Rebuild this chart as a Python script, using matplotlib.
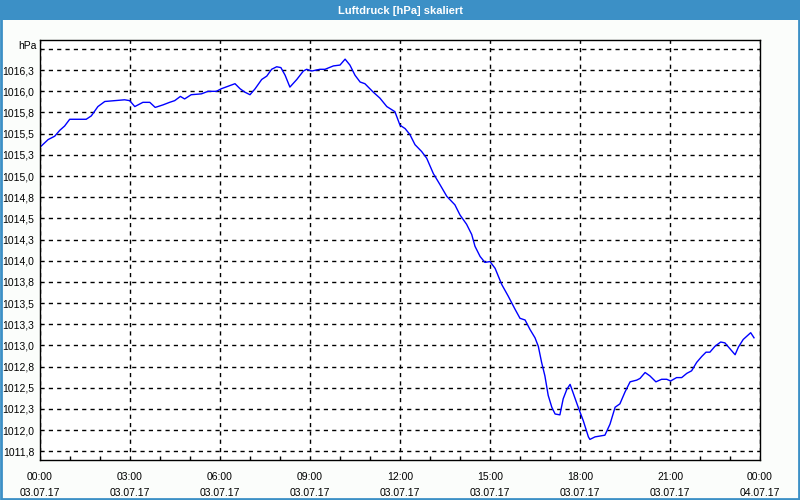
import numpy as np
import matplotlib
matplotlib.use('Agg')
import matplotlib.pyplot as plt
from matplotlib.patches import Rectangle

# Time of each reading, in hours since 03.07.17 00:00.
hours = [0.00, 0.27, 0.49, 0.66, 0.82, 0.99, 1.54, 1.71, 1.93, 2.16,
         2.82, 2.99, 3.16, 3.43, 3.66, 3.84, 4.10, 4.32, 4.49, 4.68,
         4.82, 5.04, 5.38, 5.60, 5.88, 6.04, 6.27, 6.50, 6.67, 6.83,
         7.00, 7.17, 7.39, 7.56, 7.72, 7.89, 8.03, 8.17, 8.33, 8.56,
         8.78, 8.89, 9.06, 9.33, 9.50, 9.78, 10.00, 10.17, 10.33, 10.50,
         10.67, 10.83, 11.11, 11.33, 11.56, 11.83, 12.00, 12.17, 12.33, 12.50,
         12.72, 12.89, 13.11, 13.33, 13.56, 13.83, 14.00, 14.22, 14.39, 14.50,
         14.67, 14.83, 15.00, 15.17, 15.39, 15.61, 15.83, 16.00, 16.17, 16.33,
         16.50, 16.61, 16.72, 16.83, 16.94, 17.06, 17.17, 17.33, 17.44, 17.56,
         17.67, 17.78, 17.94, 18.11, 18.28, 18.33, 18.50, 18.67, 18.83, 19.00,
         19.17, 19.33, 19.50, 19.67, 19.89, 20.00, 20.17, 20.33, 20.53, 20.72,
         20.89, 21.02, 21.22, 21.39, 21.56, 21.72, 21.89, 22.06, 22.20, 22.33,
         22.50, 22.69, 22.83, 23.00, 23.17, 23.28, 23.44, 23.69, 23.80]

# Air pressure in hPa.
pressure = [1015.34, 1015.43, 1015.47, 1015.54, 1015.59, 1015.67, 1015.67, 1015.71, 1015.82, 1015.88,
            1015.90, 1015.89, 1015.82, 1015.87, 1015.87, 1015.81, 1015.84, 1015.87, 1015.89, 1015.94,
            1015.91, 1015.96, 1015.97, 1016.00, 1016.00, 1016.03, 1016.06, 1016.09, 1016.03, 1015.99,
            1015.96, 1016.03, 1016.14, 1016.18, 1016.26, 1016.29, 1016.28, 1016.19, 1016.05, 1016.14,
            1016.24, 1016.26, 1016.24, 1016.26, 1016.26, 1016.30, 1016.31, 1016.38, 1016.31, 1016.19,
            1016.11, 1016.09, 1015.99, 1015.92, 1015.82, 1015.76, 1015.60, 1015.56, 1015.49, 1015.37,
            1015.29, 1015.21, 1015.03, 1014.90, 1014.76, 1014.66, 1014.54, 1014.43, 1014.31, 1014.17,
            1014.05, 1013.98, 1013.99, 1013.91, 1013.72, 1013.58, 1013.43, 1013.32, 1013.30, 1013.19,
            1013.09, 1012.99, 1012.80, 1012.64, 1012.41, 1012.27, 1012.19, 1012.18, 1012.37, 1012.48,
            1012.54, 1012.43, 1012.27, 1012.11, 1011.92, 1011.89, 1011.92, 1011.93, 1011.94, 1012.07,
            1012.27, 1012.31, 1012.45, 1012.57, 1012.59, 1012.61, 1012.68, 1012.64, 1012.57, 1012.60,
            1012.60, 1012.58, 1012.62, 1012.62, 1012.67, 1012.70, 1012.80, 1012.87, 1012.92, 1012.92,
            1012.99, 1013.04, 1013.03, 1012.96, 1012.89, 1012.98, 1013.07, 1013.15, 1013.09]

# Axis ticks and labels.
x_ticks = [0, 3, 6, 9, 12, 15, 18, 21, 24]
x_labels = ['00:00\n03.07.17', '03:00\n03.07.17', '06:00\n03.07.17', '09:00\n03.07.17',
            '12:00\n03.07.17', '15:00\n03.07.17', '18:00\n03.07.17', '21:00\n03.07.17',
            '00:00\n04.07.17']
y_ticks = [1011.75, 1012.0, 1012.25, 1012.5, 1012.75, 1013.0, 1013.25, 1013.5, 1013.75,
           1014.0, 1014.25, 1014.5, 1014.75, 1015.0, 1015.25, 1015.5, 1015.75, 1016.0,
           1016.25, 1016.5]
y_labels = ['1011,8', '1012,0', '1012,3', '1012,5', '1012,8', '1013,0', '1013,3', '1013,5',
            '1013,8', '1014,0', '1014,3', '1014,5', '1014,8', '1015,0', '1015,3', '1015,5',
            '1015,8', '1016,0', '1016,3', '']

title = 'Luftdruck [hPa] skaliert'
frame_blue = '#3c90c6'

plt.rcParams['font.family'] = ['Liberation Sans', 'DejaVu Sans']

fig = plt.figure(figsize=(8, 5), dpi=100, facecolor='#fbfdfb')

# Title bar and blue frame around the whole picture.
fig.patches.append(Rectangle((0, 0.96), 1, 0.04, transform=fig.transFigure,
                             facecolor=frame_blue, edgecolor='none', zorder=0))
fig.patches.append(Rectangle((0.001, 0.002), 0.998, 0.997, transform=fig.transFigure,
                             facecolor='none', edgecolor=frame_blue, linewidth=2, zorder=1))
fig.text(0.5, 0.979, title, ha='center', va='center', color='white',
         fontsize=8, fontweight='bold')

ax = fig.add_axes([0.05, 0.08, 0.90, 0.84])
ax.set_facecolor('white')
ax.plot(hours, pressure, color='#0000ff', linewidth=1)

ax.set_xlim(0, 24)
ax.set_ylim(1011.647, 1016.606)

ax.set_xticks(x_ticks)
ax.set_xticklabels(x_labels, fontsize=7.5, linespacing=1.7)
ax.set_xticks(np.arange(0, 25, 1), minor=True)
ax.set_yticks(y_ticks)
ax.set_yticklabels(y_labels, fontsize=7.5)

ax.tick_params(axis='x', which='major', length=0, pad=9)
ax.tick_params(axis='x', which='minor', direction='in', length=3, width=1)
ax.tick_params(axis='y', length=0, pad=4)

# Dashed grid lines.
ax.grid(True, which='major', color='black', linestyle=(0, (3, 3)), linewidth=1)

for spine in ax.spines.values():
    spine.set_color('black')
    spine.set_linewidth(1)

# Unit label in place of the top tick label.
ax.text(-0.004, 1016.53, 'hPa', transform=ax.get_yaxis_transform(),
        ha='right', va='center', fontsize=7.5)

plt.savefig('out.png', dpi=100, facecolor=fig.get_facecolor())
